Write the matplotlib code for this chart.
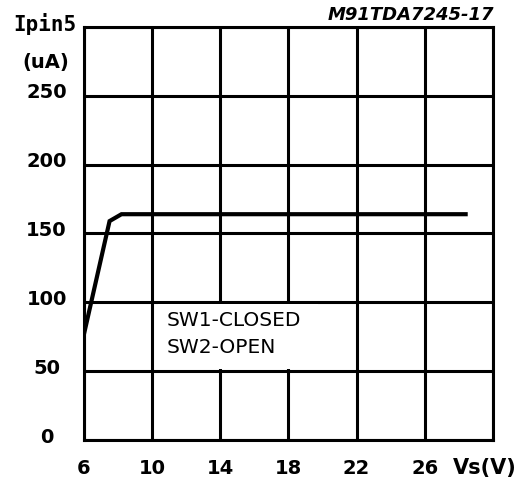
import matplotlib.pyplot as plt
import matplotlib.transforms as mtransforms
from matplotlib.patches import Rectangle

vs = [6, 7.5, 8.2, 28.4]
ipin5 = [77, 159, 164, 164]

xticks = [6, 10, 14, 18, 22, 26, 30]
xlabels = ['6', '10', '14', '18', '22', '26', '']
yticks = [0, 50, 100, 150, 200, 250, 300]
ylabels = ['0', '50', '100', '150', '200', '250', '']

font = {'family': 'DejaVu Sans', 'weight': 'bold'}

fig = plt.figure(figsize=(5.3, 4.82), dpi=100)
ax = fig.add_axes([0.1585, 0.0871, 0.7715, 0.857])

ax.set_xlim(6, 30)
ax.set_ylim(0, 300)
ax.set_xticks(xticks)
ax.set_yticks(yticks)
ax.set_xticklabels(xlabels, fontdict=font, fontsize=14)
ax.set_yticklabels(ylabels, fontdict=font, fontsize=14, ha='center')
ax.tick_params(length=0)
ax.tick_params(axis='y', pad=27)
ax.tick_params(axis='x', pad=14)
# labels on the y axis sit a little above their grid line
shift = mtransforms.ScaledTranslation(0, 5 / 100, fig.dpi_scale_trans)
for lab in ax.get_yticklabels():
    lab.set_transform(lab.get_transform() + shift)

ax.grid(True, color='black', lw=2.2)
for s in ax.spines.values():
    s.set_linewidth(2.2)

ax.plot(vs, ipin5, color='black', lw=3, solid_joinstyle='miter', zorder=3)

ax.add_patch(Rectangle((10.35, 51.3), 9.4, 47.4, facecolor='white',
                       edgecolor='none', zorder=2.5))
ax.text(10.87, 87, 'SW1-CLOSED', family='DejaVu Sans', fontsize=14.5,
        va='center', ha='left', zorder=4)
ax.text(10.87, 67.5, 'SW2-OPEN', family='DejaVu Sans', fontsize=14.5,
        va='center', ha='left', zorder=4)

fig.text(0.025, 0.95, 'Ipin5', family='DejaVu Sans Mono', fontweight='bold',
         fontsize=15, va='center', ha='left')
fig.text(0.087, 0.87, '(uA)', fontdict=font, fontsize=14, va='center', ha='center')
fig.text(0.933, 0.968, 'M91TDA7245-17', fontsize=13, fontweight='bold',
         style='italic', family='DejaVu Sans', ha='right', va='center')
fig.text(0.915, 0.03, 'Vs(V)', fontdict=font, fontsize=15, ha='center', va='center')

fig.savefig('out.png', dpi=100)
